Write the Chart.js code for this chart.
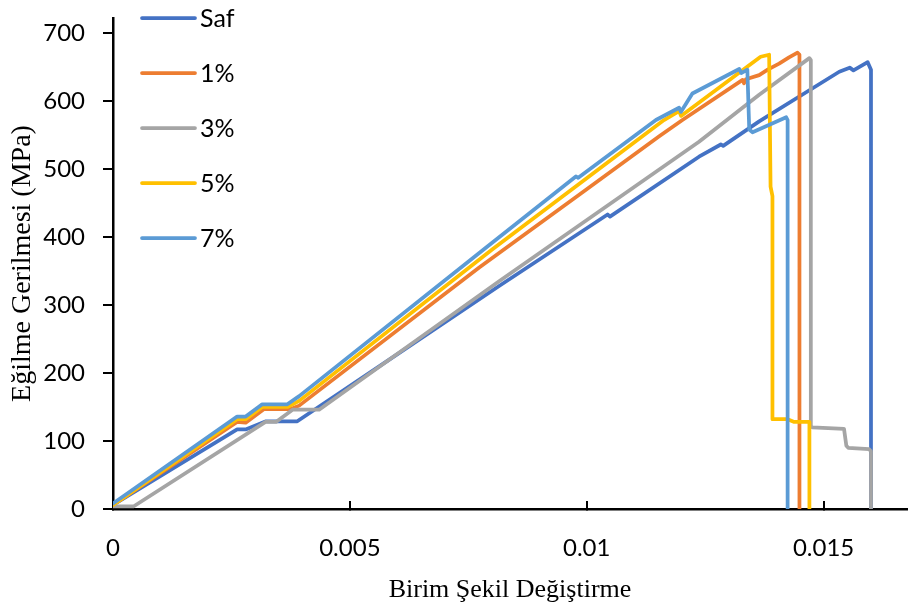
<!DOCTYPE html>
<html>
<head>
<meta charset="utf-8">
<script src="https://cdn.jsdelivr.net/npm/chart.js@4.4.0/dist/chart.umd.min.js"></script>
<style>
  html,body{margin:0;padding:0;background:#fff}
  #wrap{width:908px;height:606px}
</style>
</head>
<body>
<div id="wrap"><canvas id="chart" width="908" height="606"></canvas></div>
<script>
// series (strain, MPa)
const seriesNames = ['Saf', '1%', '3%', '5%', '7%']
const seriesColors = ['#4472C4', '#ED7D31', '#A5A5A5', '#FFC000', '#5B9BD5']

const safX = [0, 0.00262, 0.0028, 0.00323, 0.00389, 0.00569, 0.00815, 0.01044, 0.01049, 0.01237, 0.01283, 0.01288, 0.01364, 0.01533, 0.01555, 0.01563, 0.01593, 0.016, 0.016]
const safY = [6, 117, 117, 129, 129, 213, 328, 433, 430, 518, 536, 534, 570, 643, 649, 645, 657, 646, 0]

const p1X = [0, 0.00262, 0.0028, 0.00319, 0.00375, 0.00393, 0.00773, 0.00984, 0.01153, 0.01202, 0.01329, 0.01332, 0.01336, 0.01364, 0.01382, 0.01406, 0.01427, 0.01445, 0.01449, 0.01449]
const p1Y = [6, 128, 127, 147, 147, 152, 355, 462, 548, 572, 631, 626, 632, 638, 646, 655, 664, 671, 668, 0]

const p3X = [0, 0.00044, 0.00322, 0.00344, 0.00379, 0.00435, 0.00815, 0.01237, 0.01364, 0.0147, 0.01473, 0.01473, 0.01476, 0.01543, 0.01548, 0.01552, 0.01596, 0.016, 0.016]
const p3Y = [4, 4, 128, 128, 146, 146, 335, 540, 609, 663, 660, 122, 120, 118, 93, 90, 88, 85, 0]

const p5X = [0, 0.00262, 0.0028, 0.00315, 0.00368, 0.00393, 0.00801, 0.01163, 0.01195, 0.01199, 0.01367, 0.01385, 0.01388, 0.01392, 0.01392, 0.01424, 0.01438, 0.0147, 0.0147]
const p5Y = [6, 132, 132, 150, 150, 159, 382, 572, 585, 578, 665, 668, 474, 460, 132, 132, 128, 128, 0]

const p7X = [0, 0.00262, 0.0028, 0.00315, 0.00368, 0.00393, 0.00783, 0.00977, 0.00982, 0.01146, 0.01195, 0.01199, 0.01223, 0.01322, 0.01326, 0.01339, 0.01343, 0.0135, 0.01421, 0.01424, 0.01424]
const p7Y = [8, 136, 136, 154, 154, 166, 382, 489, 487, 572, 590, 584, 611, 647, 641, 646, 558, 554, 576, 572, 0]

const xTicks = [0, 0.005, 0.01, 0.015]
const yTicks = [0, 100, 200, 300, 400, 500, 600, 700]

const allX = [safX, p1X, p3X, p5X, p7X]
const allY = [safY, p1Y, p3Y, p5Y, p7Y]

const datasets = seriesNames.map((name, i) => ({
  label: name,
  data: allX[i].map((x, k) => ({ x, y: allY[i][k] })),
  borderColor: seriesColors[i],
  backgroundColor: seriesColors[i],
  borderWidth: 3.75,
  borderJoinStyle: 'round',
  borderCapStyle: 'round',
  pointRadius: 0,
  showLine: true,
  tension: 0,
  order: seriesNames.length - 1 - i   // later series on top, like the original
}))

// legend drawn inside the plot, stacked down the left side
const sideLegend = {
  id: 'sideLegend',
  afterDraw(chart){
    const ctx = chart.ctx
    ctx.save()
    chart.data.datasets.forEach((ds, i) => {
      const y = 18 + i * 55
      ctx.strokeStyle = ds.borderColor
      ctx.lineWidth = 3.75
      ctx.lineCap = 'round'
      ctx.beginPath(); ctx.moveTo(142, y); ctx.lineTo(195, y); ctx.stroke()
      ctx.fillStyle = '#000'
      ctx.font = '25px Lato'
      ctx.textBaseline = 'middle'
      ctx.fillText(ds.label, 200, y + 1)
    })
    ctx.restore()
  }
}

new Chart(document.getElementById('chart'), {
  type: 'scatter',
  data: { datasets },
  plugins: [sideLegend],
  options: {
    responsive: false,
    animation: false,
    layout: { padding: { left: 0, top: 18, right: 1, bottom: 0 } },
    plugins: { legend: { display: false }, tooltip: { enabled: false } },
    scales: {
      x: {
        type: 'linear', min: 0, max: 0.01676,
        afterBuildTicks: s => { s.ticks = xTicks.map(v => ({ value: v })) },
        afterFit: s => { s.height = 97; s.paddingLeft = 0; s.paddingRight = 0 },
        ticks: {
          color: '#000', font: { family: 'Lato', size: 24 }, padding: 33, maxRotation: 0,
          callback: v => v === 0 ? '0' : String(parseFloat(v.toFixed(4)))
        },
        grid: { drawOnChartArea: false, drawTicks: true, tickLength: -8, color: '#000', lineWidth: 2 },
        border: { display: true, color: '#000', width: 2.5 },
        title: { display: true, text: 'Birim Şekil Değiştirme', color: '#000', font: { family: 'Liberation Serif', size: 26 }, padding: { top: 0, bottom: 0 } }
      },
      y: {
        min: 0, max: 722,
        afterBuildTicks: s => { s.ticks = yTicks.map(v => ({ value: v })) },
        afterFit: s => { s.width = 113; s.paddingTop = 0; s.paddingBottom = 0 },
        ticks: { color: '#000', font: { family: 'Lato', size: 24 }, padding: 18 },
        grid: { drawOnChartArea: false, drawTicks: true, tickLength: 10, color: '#000', lineWidth: 2 },
        border: { display: true, color: '#000', width: 2.5 },
        title: { display: true, text: 'Eğilme Gerilmesi (MPa)', color: '#000', font: { family: 'Liberation Serif', size: 28 }, padding: { top: 6, bottom: 0 } }
      }
    }
  }
})
</script>
</body>
</html>
